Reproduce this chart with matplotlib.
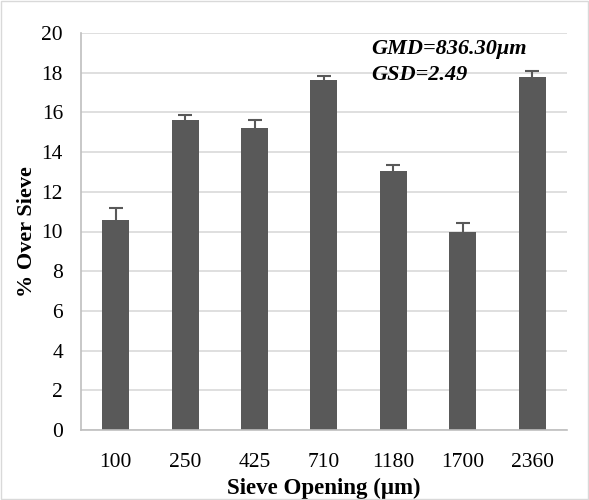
import matplotlib.pyplot as plt
import numpy as np

# sieve data
sieve_labels = ["100", "250", "425", "710", "1180", "1700", "2360"]
pct_over = [10.6, 15.6, 15.2, 17.65, 13.05, 9.95, 17.8]
pct_err = [0.6, 0.28, 0.4, 0.17, 0.3, 0.5, 0.3]

plt.rcParams['font.family'] = ['Liberation Serif', 'DejaVu Serif']

fig = plt.figure(figsize=(5.89, 5.0), dpi=100)
ax = fig.add_axes([0.1375, 0.14, 0.825, 0.794])

x = np.arange(len(sieve_labels))
ax.bar(x, pct_over, width=0.39, color="#595959", zorder=2,
       yerr=pct_err, error_kw=dict(ecolor="#595959", capsize=5, elinewidth=1.5, capthick=1.5))

ax.set_ylim(0, 20)
ax.set_yticks(np.arange(0, 21, 2))
ax.set_xlim(-0.5, len(sieve_labels) - 0.5)
ax.set_xticks(x)
ax.set_xticklabels(sieve_labels)
ax.tick_params(axis="both", length=0, labelsize=15.5, colors="black")
ax.tick_params(axis="x", pad=16.5)
ax.tick_params(axis="y", pad=13)
ax.yaxis.grid(True, color="#d9d9d9", linewidth=1.2, zorder=0)
ax.set_axisbelow(True)
for side in ["top", "right"]:
    ax.spines[side].set_visible(False)
for side in ["left", "bottom"]:
    ax.spines[side].set_color("#bfbfbf")
    ax.spines[side].set_linewidth(1.2)

ax.set_xlabel("Sieve Opening (μm)", fontsize=16.5, fontweight="bold", labelpad=4)
ax.set_ylabel("% Over Sieve", fontsize=16, fontweight="bold", labelpad=3)

ax.text(0.597, 0.96, "GMD=836.30μm", transform=ax.transAxes, fontsize=16,
        fontweight="bold", fontstyle="italic", va="center")
ax.text(0.597, 0.894, "GSD=2.49", transform=ax.transAxes, fontsize=16,
        fontweight="bold", fontstyle="italic", va="center")

fig.patches.append(plt.Rectangle((0.002, 0.002), 0.996, 0.996, transform=fig.transFigure,
                                 fill=False, edgecolor="#d9d9d9", linewidth=1))

fig.savefig("out.png", dpi=100)
